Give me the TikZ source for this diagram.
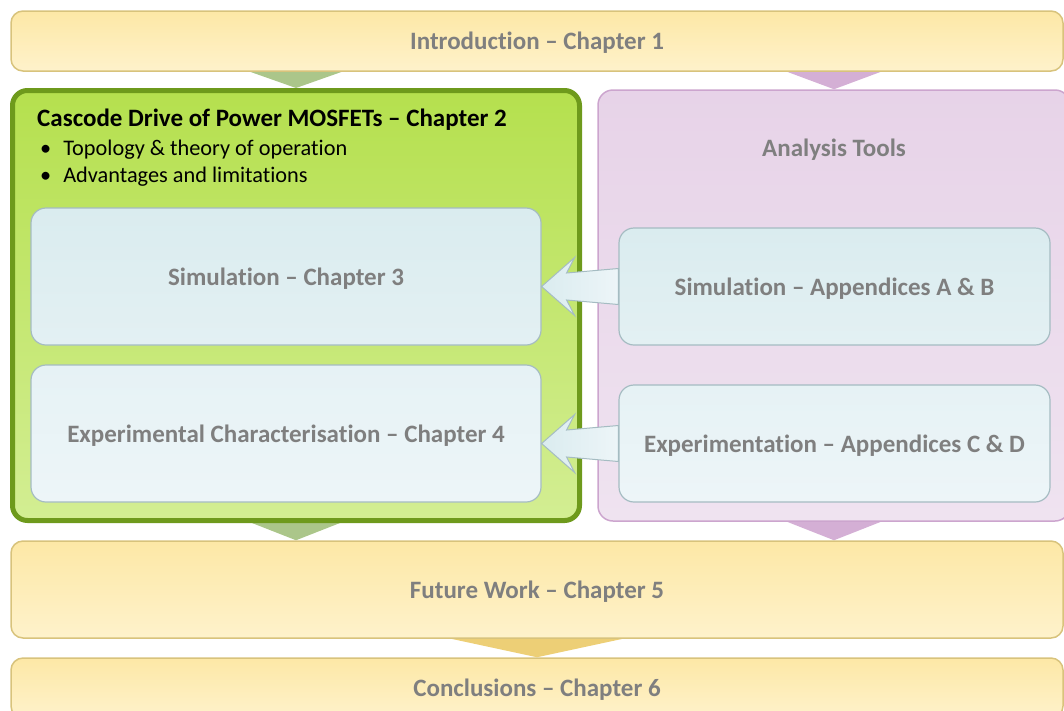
\documentclass[tikz,border=0pt]{standalone}
\usepackage{fontspec}
\setmainfont{Carlito}[Ligatures={TeX,NoCommon}]
\usetikzlibrary{calc}
\definecolor{chaptop}{HTML}{FDE8A6}
\definecolor{chapbot}{HTML}{FEF2CB}
\definecolor{chapline}{HTML}{D8C37C}
\definecolor{greentop}{HTML}{B5E04E}
\definecolor{greenbot}{HTML}{D3EE93}
\definecolor{greenline}{HTML}{6E9A1C}
\definecolor{pinktop}{HTML}{E7D3E8}
\definecolor{pinkbot}{HTML}{EFE3F0}
\definecolor{pinkline}{HTML}{CCA5CE}
\definecolor{bluetop}{HTML}{DAECEF}
\definecolor{bluebot}{HTML}{E3F0F3}
\definecolor{bluetopb}{HTML}{E6F2F5}
\definecolor{bluebotb}{HTML}{EDF5F8}
\definecolor{blueline}{HTML}{A5BCC2}
\definecolor{label}{HTML}{7F7F7F}
\definecolor{linkgreen}{HTML}{ABC68A}
\definecolor{linkpink}{HTML}{D4AFD5}
\definecolor{linkyellow}{HTML}{EDCF76}
\pgfdeclarelayer{bg}
\pgfsetlayers{bg,main}

\begin{document}
\begin{tikzpicture}[x=1pt, y=-1pt,
    every node/.style={font=\fontsize{25}{29}\selectfont},
    chapbox/.style={draw=chapline, line width=1.5pt, rounded corners=12pt, top color=chaptop, bottom color=chapbot, text=label, font=\fontsize{25}{29}\selectfont\bfseries, text depth=0pt},
    toolbox/.style={draw=blueline, line width=1.2pt, rounded corners=15pt, text=label, font=\fontsize{25}{29}\selectfont\bfseries, text depth=0pt},
    blockarrow/.style={draw=blueline, line width=1pt, left color=bluetop, right color=bluebotb}]
    \useasboundingbox (0,0) rectangle (1064,710);

    % chapter boxes
    \node[chapbox, minimum width=1052pt, minimum height=60pt] (intro) at (537,41) {Introduction -- Chapter 1};
    \node[draw=greenline, line width=5pt, rounded corners=15pt, top color=greentop, bottom color=greenbot, minimum width=567pt, minimum height=430pt] (cascode) at (296,305.5) {};
    \node[draw=pinkline, line width=1.5pt, rounded corners=15pt, top color=pinktop, bottom color=pinkbot, minimum width=472pt, minimum height=431pt] (tools) at (834,305.5) {};
    \node[chapbox, minimum width=1052pt, minimum height=97pt] (future) at (537,589.5) {Future Work -- Chapter 5};
    \node[chapbox, minimum width=1052pt, minimum height=60pt] (concl) at (537,688) {Conclusions -- Chapter 6};

    \node[anchor=west, inner sep=0pt, font=\fontsize{25}{29}\selectfont\bfseries] (cascodeTitle) at (37,120) {Cascode Drive of Power MOSFETs -- Chapter 2};
    \node[anchor=north west, align=left, inner sep=0pt, font=\fontsize{22.3}{27}\selectfont] (cascodeList) at (40,140)
        {\textbullet\hspace{12pt}Topology \& theory of operation\\
         \textbullet\hspace{12pt}Advantages and limitations};
    \node[text=label, font=\fontsize{25}{29}\selectfont\bfseries] (toolsText) at (834,150) {Analysis Tools};

    % inner boxes
    \node[toolbox, top color=bluetop, bottom color=bluebot, minimum width=510pt, minimum height=137pt] (sim3) at (286,276.5) {Simulation -- Chapter 3};
    \node[toolbox, top color=bluetopb, bottom color=bluebotb, minimum width=510pt, minimum height=137pt] (exp4) at (286,433.5) {Experimental Characterisation -- Chapter 4};
    \node[toolbox, top color=bluetop, bottom color=bluebot, minimum width=431pt, minimum height=117pt] (simA) at (834.5,286.5) {Simulation -- Appendices A \& B};
    \node[toolbox, top color=bluetopb, bottom color=bluebotb, minimum width=431pt, minimum height=117pt] (expC) at (834.5,443.5) {Experimentation -- Appendices C \& D};

    % links between the chapters
    \begin{pgfonlayer}{bg}
        \fill[linkgreen] ($(intro.south -| cascode.north)+(-46,0)$) -- (cascode.north) -- ($(intro.south -| cascode.north)+(46,0)$) -- cycle;
        \fill[linkpink] ($(intro.south -| tools.north)+(-47,0)$) -- (tools.north) -- ($(intro.south -| tools.north)+(47,0)$) -- cycle;
        \fill[linkgreen] ($(cascode.south)+(-44,0)$) -- (cascode.south |- future.north) -- ($(cascode.south)+(44,0)$) -- cycle;
        \fill[linkpink] ($(tools.south)+(-47,0)$) -- (tools.south |- future.north) -- ($(tools.south)+(47,0)$) -- cycle;
        \fill[linkyellow] ($(future.south)+(-86,0)$) -- (future.south |- concl.north) -- ($(future.south)+(86,0)$) -- cycle;
    \end{pgfonlayer}

    % tools feeding the chapters
    \coordinate (tipA) at (sim3.east |- simA.west);
    \coordinate (tipC) at (exp4.east |- expC.west);
    \draw[blockarrow] (tipA) -- ++(33,-29) -- ++(-8,15.5) -- ($(simA.west)+(0,-18)$) -- ($(simA.west)+(0,18)$) -- ($(tipA)+(25,13.5)$) -- ++(8,15.5) -- cycle;
    \draw[blockarrow] (tipC) -- ++(33,-29) -- ++(-8,15.5) -- ($(expC.west)+(0,-18)$) -- ($(expC.west)+(0,18)$) -- ($(tipC)+(25,13.5)$) -- ++(8,15.5) -- cycle;
\end{tikzpicture}
\end{document}
